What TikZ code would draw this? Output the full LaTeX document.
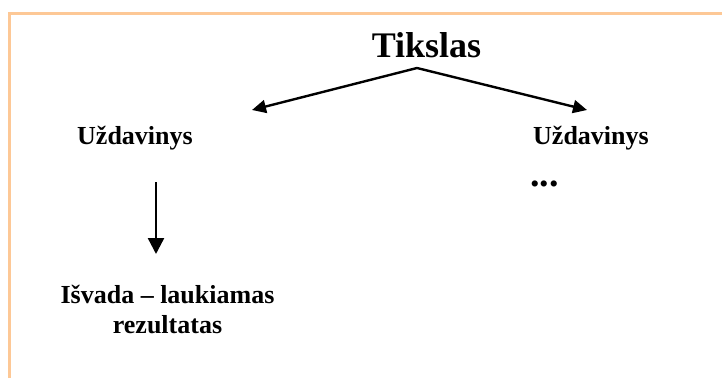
\documentclass[tikz,border=0pt]{standalone}
\usepackage{fontspec}
\setmainfont{Liberation Serif}
\usetikzlibrary{arrows.meta}
\definecolor{frameorange}{RGB}{253,200,150}
\tikzset{
  lbl/.style={inner sep=0pt, anchor=base, font=\bfseries\fontsize{26}{30}\selectfont},
  conn/.style={line width=2.4pt, -{Triangle[length=14pt,width=13pt]}},
  frame/.style={draw=frameorange, line width=2.5pt}
}
\begin{document}
\begin{tikzpicture}[x=1pt,y=-1pt]
\useasboundingbox (0,0) rectangle (722,378);
\draw[frame] (9.5,378) -- (9.5,13.5) -- (722,13.5);
\node[inner sep=0pt, anchor=base, font=\bfseries\fontsize{36}{40}\selectfont] (t) at (426.5,57) {Tikslas};
\node[lbl] (u1) at (135,144) {Uždavinys};
\node[lbl] (u2) at (591,144) {Uždavinys};
\node[lbl, anchor=base west, font=\bfseries\fontsize{38}{40}\selectfont] (dots) at (530,186) {...};
\node[lbl, align=center] (isv) at (167.5,333) {Išvada – laukiamas\\rezultatas};
\coordinate (apex) at (417,68);
\coordinate (l1) at (252,110);
\coordinate (r1) at (587,110);
\coordinate (d0) at (156,182);
\coordinate (d1) at (156,254);
\draw[conn] (apex) -- (l1);
\draw[conn] (apex) -- (r1);
\draw[conn, -{Triangle[length=16pt,width=16pt]}] (d0) -- (d1);
\end{tikzpicture}
\end{document}
